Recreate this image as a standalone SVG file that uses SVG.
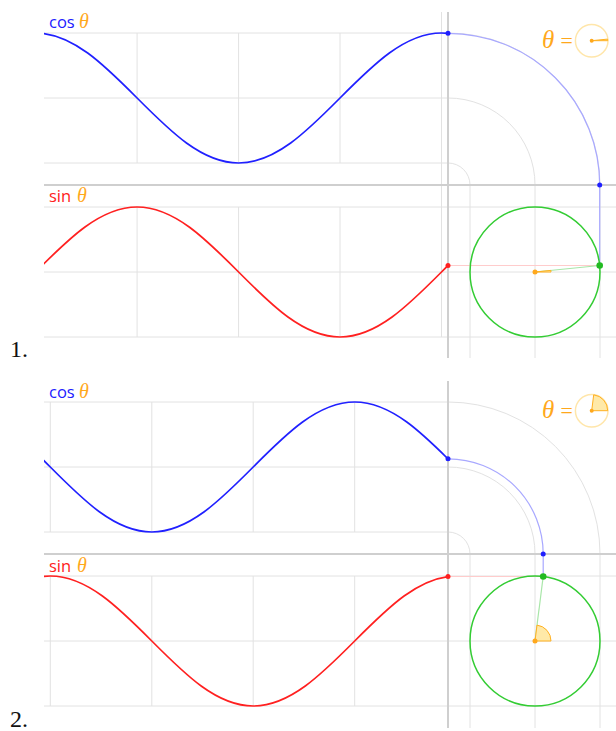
<svg xmlns="http://www.w3.org/2000/svg" width="616" height="731" viewBox="0 0 616 731">
<defs>
<style>
.grid{stroke:#e2e2e2;stroke-width:1;fill:none}
.axis{stroke:#cfcfcf;stroke-width:2;fill:none}
.cos{stroke:#2020ff;stroke-width:1.7;fill:none}
.sin{stroke:#ff2020;stroke-width:1.7;fill:none}
.cosl{stroke:#a8a8ff;stroke-width:1.2;fill:none}
.sinl{stroke:#ffcccc;stroke-width:1.2;fill:none}
.radl{stroke:#a8e6a8;stroke-width:1.2;fill:none}
.unit{stroke:#33cc33;stroke-width:1.5;fill:none}
.sect{fill:#ffe9a8;stroke:#ffb020;stroke-width:1}
.icon{fill:#fff;stroke:#ffe6aa;stroke-width:1.5}
.lbl{font-family:"Open Sans","Liberation Sans",sans-serif;font-size:16.5px;font-weight:500}
.th{font-family:"Liberation Serif","DejaVu Serif",serif;font-style:italic;fill:#ffa81c}
.num{font-family:"Liberation Serif","DejaVu Serif",serif;font-size:24px;fill:#111}
</style>
<clipPath id="c1"><rect x="44" y="0" width="404" height="370"/></clipPath>
<clipPath id="c2"><rect x="44" y="370" width="404" height="361"/></clipPath>
</defs>
<rect width="616" height="731" fill="#fff"/>

<g id="panel1">
  <g id="grid1">
    <path class="grid" d="M44,33H448 M44,98H448 A87,87 0 0 1 535,185 M44,163H448 A22,22 0 0 1 470,185 M448,33 A152,152 0 0 1 600,185 M44,207H616 M44,272H616 M44,337H616 M470,185V358 M535,185V358 M600,185V358 M441.5,12V337 M340,33V163 M340,207V337 M238.6,33V163 M238.6,207V337 M137.1,33V163 M137.1,207V337"/>
    <path class="axis" d="M44,185H616 M448,12V358"/>
  </g>
  <g id="curves1" clip-path="url(#c1)">
    <path class="cos" d="M35.6,33 C72.32,33 103.98,64.7 137.1,98 C170.19,131.3 201.85,163 238.6,163 C275.32,163 306.98,131.3 340,98 C373.09,64.7 404.75,33 441.5,33 C478.22,33 509.88,64.7 543,98"/>
    <path class="sin" d="M35.6,272 C68.69,238.7 100.35,207 137.1,207 C173.82,207 205.48,238.7 238.6,272 C271.69,305.3 303.35,337 340,337 C376.72,337 408.38,305.3 441.5,272 C474.59,238.7 506.25,207 543,207"/>
  </g>
  <g id="connectors1">
    <path class="cosl" d="M448,33.3 A151.7,151.7 0 0 1 599.7,185 V265.5"/>
    <path class="sinl" d="M448,265.5 H599.7"/>
    <path class="radl" d="M535,272 L599.7,265.5"/>
  </g>
  <g id="circle1">
    <circle class="unit" cx="535" cy="272" r="65"/>
    <path class="sect" d="M535,272 L551,272 A16,16 0 0 0 550.9,270.4 Z"/>
    <circle cx="535" cy="272" r="2.5" fill="#ffa81c"/>
    <circle cx="448" cy="33.3" r="2.5" fill="#2020ff"/>
    <circle cx="599.7" cy="185" r="2.5" fill="#2020ff"/>
    <circle cx="448" cy="265.5" r="2.5" fill="#ff2020"/>
    <circle cx="599.7" cy="265.5" r="3.3" fill="#22bb22"/>
  </g>
  <g id="labels1">
    <text class="lbl" x="49" y="28" fill="#2020ff">cos</text>
    <text class="th" x="79" y="28" font-size="20">θ</text>
    <text class="lbl" x="49" y="202" fill="#ff2020">sin</text>
    <text class="th" x="77" y="202" font-size="20">θ</text>
    <text class="num" x="10" y="357">1.</text>
  </g>
  <g id="icon1">
    <text class="th" x="542" y="48" font-size="25">θ</text>
    <text class="th" x="559" y="48" font-size="22" font-style="normal">=</text>
    <circle class="icon" cx="591.7" cy="40.7" r="16.3"/>
    <path class="sect" d="M591.7,40.7 L607.7,40.7 A16,16 0 0 0 607.6,39.1 Z"/>
    <circle cx="591.7" cy="40.7" r="2" fill="#ffa81c"/>
  </g>
</g>

<g id="panel2">
  <g id="grid2">
    <path class="grid" d="M44,402H448 M44,467H448 A87,87 0 0 1 535,554 M44,532H448 A22,22 0 0 1 470,554 M448,402 A152,152 0 0 1 600,554 M44,576H616 M44,641H616 M44,706H616 M470,554V728 M535,554V728 M600,554V728 M354.7,402V532 M354.7,576V706 M253.2,402V532 M253.2,576V706 M151.8,402V532 M151.8,576V706 M50.3,402V532 M50.3,576V706"/>
    <path class="axis" d="M44,554H616 M448,381V728"/>
  </g>
  <g id="curves2" clip-path="url(#c2)">
    <path class="cos" d="M-51.2,402 C-14.48,402 17.18,433.7 50.3,467 C83.39,500.3 115.05,532 151.8,532 C188.52,532 220.18,500.3 253.2,467 C286.29,433.7 317.95,402 354.7,402 C391.42,402 423.08,433.7 456.2,467"/>
    <path class="sin" d="M-51.2,641 C-18.11,607.7 13.55,576 50.3,576 C87.02,576 118.68,607.7 151.8,641 C184.89,674.3 216.55,706 253.2,706 C289.92,706 321.58,674.3 354.7,641 C387.79,607.7 419.45,576 456.2,576"/>
  </g>
  <g id="connectors2">
    <path class="cosl" d="M448,458.8 A95.2,95.2 0 0 1 543.2,554 V576.5"/>
    <path class="sinl" d="M448,576.5 H543.2"/>
    <path class="radl" d="M535,641 L543.2,576.5"/>
  </g>
  <g id="circle2">
    <circle class="unit" cx="535" cy="641" r="65"/>
    <path class="sect" d="M535,641 L551,641 A16,16 0 0 0 537,625.1 Z"/>
    <circle cx="535" cy="641" r="2.5" fill="#ffa81c"/>
    <circle cx="448" cy="458.8" r="2.5" fill="#2020ff"/>
    <circle cx="543.2" cy="554" r="2.5" fill="#2020ff"/>
    <circle cx="448" cy="576.5" r="2.5" fill="#ff2020"/>
    <circle cx="543.2" cy="576.5" r="3.3" fill="#22bb22"/>
  </g>
  <g id="labels2">
    <text class="lbl" x="49" y="398" fill="#2020ff">cos</text>
    <text class="th" x="79" y="398" font-size="20">θ</text>
    <text class="lbl" x="49" y="572" fill="#ff2020">sin</text>
    <text class="th" x="77" y="572" font-size="20">θ</text>
    <text class="num" x="10" y="727">2.</text>
  </g>
  <g id="icon2">
    <text class="th" x="542" y="418" font-size="25">θ</text>
    <text class="th" x="559" y="418" font-size="22" font-style="normal">=</text>
    <circle class="icon" cx="591.7" cy="410.7" r="16.3"/>
    <path class="sect" d="M591.7,410.7 L607.7,410.7 A16,16 0 0 0 593.7,394.8 Z"/>
    <circle cx="591.7" cy="410.7" r="2" fill="#ffa81c"/>
  </g>
</g>
</svg>
